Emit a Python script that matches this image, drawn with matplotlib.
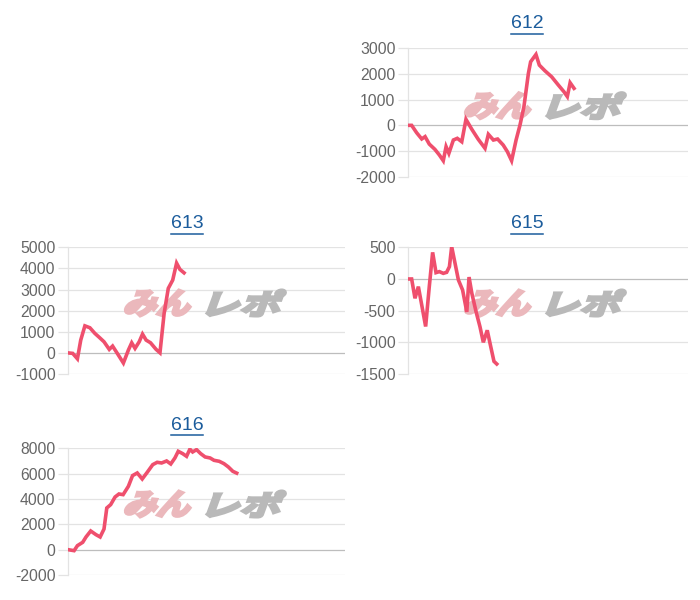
import matplotlib
matplotlib.use('Agg')
import matplotlib.pyplot as plt
from matplotlib.textpath import TextPath
from matplotlib.font_manager import FontProperties
from matplotlib.patches import PathPatch
from matplotlib.transforms import Affine2D
from matplotlib.lines import Line2D

plt.rcParams['font.family'] = ['Liberation Sans', 'DejaVu Sans']
plt.rcParams['axes.unicode_minus'] = False

# --- data (x: position across the plot width, 0..100) ---
x612 = [0, 1.3, 3.1, 4.9, 6.1, 7.6, 9.6, 11.2, 12.6, 13.6, 14.6, 16.2, 17.6, 19.2,
        20.7, 22.8, 25.1, 27.5, 28.7, 30.5, 32.0, 34.0, 35.5, 37.0, 38.6, 40.0,
        41.4, 43.0, 43.8, 45.7, 46.9, 48.9, 51.3, 53.7, 55.7, 56.9, 57.9, 59.3]
y612 = [0, 0, -290, -530, -440, -730, -935, -1155, -1377, -830, -1090, -572, -506, -638,
        233, -156, -545, -895, -350, -572, -533, -767, -1027, -1377, -572, 12,
        724, 2023, 2475, 2760, 2346, 2125, 1891, 1568, 1307, 1120, 1658, 1440]
yt612 = [-2000, -1000, 0, 1000, 2000, 3000]

x613 = [0, 1.7, 3.4, 4.6, 6.1, 7.9, 9.7, 11.3, 13.0, 14.9, 16.1, 17.8, 20.0, 21.8,
        23.0, 24.2, 25.7, 26.9, 28.2, 29.8, 31.8, 33.2, 34.7, 36.2, 37.8, 39.2, 40.4, 41.9]
y613 = [0, -24, -280, 606, 1280, 1190, 923, 734, 526, 166, 322, -24, -480, 133,
        478, 213, 526, 890, 606, 478, 166, 5, 1870, 3054, 3447, 4250, 3953, 3790]
yt613 = [-1000, 0, 1000, 2000, 3000, 4000, 5000]

x615 = [0, 1.3, 2.5, 3.7, 4.9, 6.3, 7.6, 8.8, 10.0, 11.2, 12.6, 13.8, 14.8, 15.6,
        16.8, 18.0, 19.5, 21.0, 21.8, 22.8, 24.3, 25.7, 26.9, 28.3, 29.5, 30.7, 31.7]
y615 = [0, 0, -305, -121, -410, -750, -121, 420, 100, 116, 89, 105, 195, 510,
        247, -16, -174, -520, 30, -226, -516, -753, -1000, -810, -1058, -1300, -1342]
yt615 = [-1500, -1000, -500, 0, 500]

x616 = [0, 2.2, 3.4, 5.3, 6.5, 8.2, 10.1, 11.6, 13.0, 14.0, 15.4, 17.0, 18.4, 19.9,
        21.8, 23.3, 25.0, 26.8, 28.6, 30.6, 32.2, 33.8, 35.6, 37.1, 38.6, 39.8,
        41.4, 42.8, 44.0, 45.0, 46.4, 47.9, 49.5, 51.3, 52.7, 54.6, 56.3, 57.9, 59.5, 60.9]
y616 = [0, -79, 316, 579, 1000, 1473, 1184, 1000, 1631, 3290, 3553, 4158, 4395, 4342,
        5000, 5842, 6053, 5579, 6105, 6711, 6895, 6842, 7000, 6763, 7237, 7763,
        7579, 7368, 7930, 7710, 7895, 7579, 7316, 7237, 7053, 6974, 6789, 6526, 6184, 6040]
yt616 = [-2000, 0, 2000, 4000, 6000, 8000]

LINE = '#ef4f6d'
GRID = '#e3e3e3'
ZERO = '#bdbdbd'
TICK = '#666666'
LINK = '#1b5c9c'
PINK = '#ebb8bc'
GREY = '#b9b9b9'

W, H = 700, 600
fig = plt.figure(figsize=(W / 100, H / 100), dpi=100)

# name, x, y, yticks, axes box in px (left, top, right, bottom), title centre px
charts = [
    ('612', x612, y612, yt612, (408, 48.3, 688, 176.7), (527, 24)),
    ('613', x613, y613, yt613, (68, 247.3, 345, 374), (187, 224)),
    ('615', x615, y615, yt615, (408, 247.3, 688, 374), (527, 224)),
    ('616', x616, y616, yt616, (68, 448.3, 345, 575), (187, 425)),
]

fp = FontProperties(family='Noto Sans CJK JP', weight='bold')


def watermark(ax, left, bottom):
    # stylised "みんレポ" logo behind the line
    for txt, col, x0, x1 in [('みん', PINK, 55, 128), ('レポ', GREY, 138, 218)]:
        tp = TextPath((0, 0), txt, size=1, prop=fp)
        ext = tp.get_extents()
        h = 26
        slant = 0.35
        sx = (x1 - x0 - h * slant) / ext.width
        tr = (Affine2D().translate(-ext.x0, -ext.y0)
              .scale(sx, h / ext.height)
              .skew(slant, 0)
              .translate(left + x0, H - bottom + 58)
              .scale(1 / 100) + fig.dpi_scale_trans)
        ax.add_patch(PathPatch(tp, transform=tr, facecolor=col, edgecolor=col,
                               lw=2.2, joinstyle='miter', clip_on=False, zorder=1))


titles = []
for name, xs, ys, yt, (l, t, r, b), (cx, cy) in charts:
    ax = fig.add_axes([l / W, 1 - b / H, (r - l) / W, (b - t) / H])
    ax.set_xlim(0, 100)
    ax.set_ylim(yt[0], yt[-1])
    ax.set_yticks(yt)
    ax.set_yticklabels([str(v) for v in yt])
    ax.set_xticks([])
    for v in yt:
        ax.axhline(v, color=ZERO if v == 0 else GRID, lw=0.9, zorder=0)
    for s in ['top', 'right', 'bottom']:
        ax.spines[s].set_visible(False)
    ax.spines['left'].set_color(GRID)
    ax.spines['left'].set_linewidth(0.9)
    ax.tick_params(axis='y', length=7, width=0.9, color=GRID, pad=2,
                   labelsize=11.3, labelcolor=TICK)
    watermark(ax, l, b)
    ax.plot(xs, ys, color=LINE, lw=2.6, solid_joinstyle='miter', zorder=3)
    tx = fig.text(cx / W, 1 - cy / H, name, ha='center', va='center',
                  fontsize=14, color=LINK)
    titles.append((tx, cy))

# underline the titles (they are links)
fig.canvas.draw()
rend = fig.canvas.get_renderer()
for tx, cy in titles:
    bb = tx.get_window_extent(rend)
    yl = 1 - (cy + 9.5) / H
    fig.add_artist(Line2D([bb.x0 / W, bb.x1 / W], [yl, yl], color=LINK, lw=1.1,
                          transform=fig.transFigure))

fig.savefig('out.png', dpi=100)
